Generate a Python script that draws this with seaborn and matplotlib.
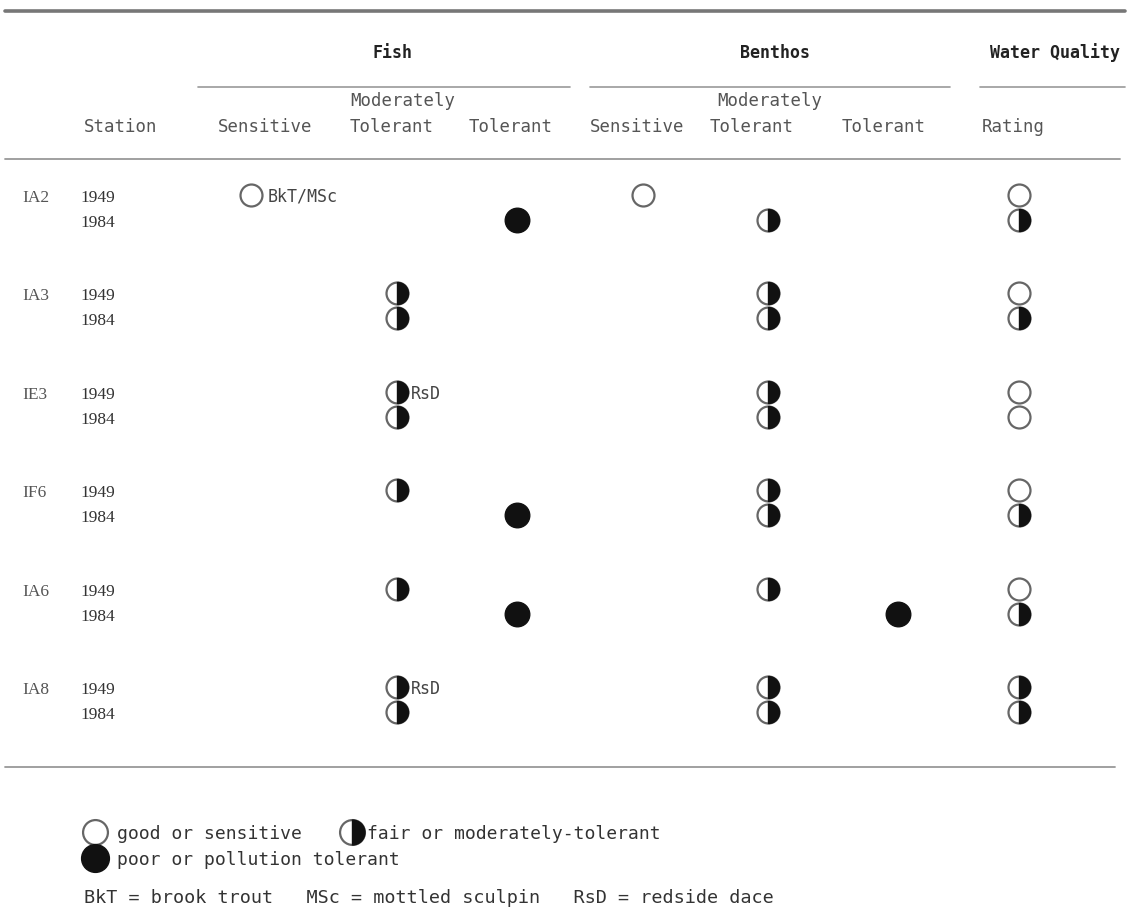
import pandas as pd
import seaborn as sns
import matplotlib.pyplot as plt
from matplotlib.markers import MarkerStyle

# Table contents
stations = ["IA2", "IA3", "IE3", "IF6", "IA6", "IA8"]
years = ["1949", "1984"]

# Fish / benthos: tolerance class found at each station (S, MT, T)
fish_1949 = ["S", "MT", "MT", "MT", "MT", "MT"]
fish_1984 = ["T", "MT", "MT", "T", "T", "MT"]
benthos_1949 = ["S", "MT", "MT", "MT", "MT", "MT"]
benthos_1984 = ["MT", "MT", "MT", "MT", "T", "MT"]

# Water quality rating (good, fair, poor)
wq_1949 = ["good", "good", "good", "good", "good", "fair"]
wq_1984 = ["fair", "fair", "good", "fair", "fair", "fair"]

# Species notes next to fish symbols (station, year, text)
fish_notes = [("IA2", "1949", "BkT/MSc"), ("IE3", "1949", "RsD"), ("IA8", "1949", "RsD")]

sub_headers = ["Sensitive", "Tolerant", "Tolerant", "Sensitive", "Tolerant", "Tolerant", "Rating"]
legend_labels = ["good or sensitive", "fair or moderately-tolerant", "poor or pollution tolerant"]
abbreviations = "BkT = brook trout   MSc = mottled sculpin   RsD = redside dace"

# Layout (pixel units of the page)
COL_X = {("Fish", "S"): 251, ("Fish", "MT"): 397, ("Fish", "T"): 517,
         ("Benthos", "S"): 643, ("Benthos", "MT"): 768, ("Benthos", "T"): 898,
         ("Water Quality", "rating"): 1019}
HEADER_X = [265, 392, 511, 637, 752, 884, 1013]
ROW_Y0, ROW_STEP, YEAR_DY = 196, 98.4, 25
SYMBOL = {"S": "open", "MT": "half", "T": "full", "good": "open", "fair": "half", "poor": "full"}

MONO = ["DejaVu Sans Mono"]
SERIF = ["Liberation Serif", "DejaVu Serif"]
INK = "#333333"


def row_y(station, year):
    return ROW_Y0 + ROW_STEP * stations.index(station) + YEAR_DY * years.index(year)


def build_table():
    """Long table: one row per symbol in the chart."""
    rows = []
    for group, y49, y84 in [("Fish", fish_1949, fish_1984), ("Benthos", benthos_1949, benthos_1984)]:
        for year, vals in zip(years, [y49, y84]):
            for st, v in zip(stations, vals):
                rows.append(dict(station=st, year=year, group=group, level=v, symbol=SYMBOL[v]))
    for year, vals in zip(years, [wq_1949, wq_1984]):
        for st, v in zip(stations, vals):
            rows.append(dict(station=st, year=year, group="Water Quality", level="rating", symbol=SYMBOL[v]))
    df = pd.DataFrame(rows)
    df["x"] = [COL_X[(g, l)] for g, l in zip(df["group"], df["level"])]
    df["y"] = [row_y(s, y) for s, y in zip(df["station"], df["year"])]
    return df


def draw_symbols(ax, df, size=250):
    """Open, half-filled and filled circles."""
    ring = df[df["symbol"].isin(["open", "half"])]
    sns.scatterplot(data=ring, x="x", y="y", ax=ax, s=size, marker="o",
                    facecolor="white", edgecolor="#666666", linewidth=1.6, zorder=3)
    half = df[df["symbol"] == "half"]
    sns.scatterplot(data=half, x="x", y="y", ax=ax, s=size,
                    marker=MarkerStyle("o", fillstyle="right"),
                    color="#111111", edgecolor="#111111", linewidth=1.0, zorder=4)
    full = df[df["symbol"] == "full"]
    sns.scatterplot(data=full, x="x", y="y", ax=ax, s=size * 1.25, marker="o",
                    color="#111111", edgecolor="#111111", linewidth=1.0, zorder=4)


def main():
    sns.set_theme(style="white")
    plt.rcParams["font.family"] = MONO

    fig = plt.figure(figsize=(11.29, 9.12), dpi=100)
    ax = fig.add_axes([0, 0, 1, 1])
    ax.set_xlim(0, 1129)
    ax.set_ylim(912, 0)
    ax.axis("off")

    # Rules
    ax.plot([5, 1125], [12, 12], color="#777777", lw=2.6)
    for x0, x1 in [(198, 570), (590, 950), (980, 1125)]:
        ax.plot([x0, x1], [88, 88], color="#999999", lw=1.2)
    ax.plot([5, 1120], [160, 160], color="#999999", lw=1.3)
    ax.plot([5, 1115], [768, 768], color="#999999", lw=1.3)

    # Headers
    for label, x in [("Fish", 392), ("Benthos", 775), ("Water Quality", 1055)]:
        ax.text(x, 53, label, ha="center", va="center", fontsize=12, fontweight="bold", color="#222222")
    for x in [403, 770]:
        ax.text(x, 101, "Moderately", ha="center", va="center", fontsize=12.5, color="#555555")
    ax.text(121, 127, "Station", ha="center", va="center", fontsize=12.5, color="#555555")
    for label, x in zip(sub_headers, HEADER_X):
        ax.text(x, 127, label, ha="center", va="center", fontsize=12.5, color="#555555")

    # Row labels
    for st in stations:
        ax.text(22, row_y(st, "1949") + 2, st, ha="left", va="center", fontsize=12.5,
                family=SERIF, color="#555555")
        for yr in years:
            ax.text(80, row_y(st, yr) + 2, yr, ha="left", va="center", fontsize=12.5,
                    family=SERIF, color=INK)

    df = build_table()
    draw_symbols(ax, df)

    for st, yr, note in fish_notes:
        x0 = COL_X[("Fish", "S")] + 17 if note == "BkT/MSc" else COL_X[("Fish", "MT")] + 14
        ax.text(x0, row_y(st, yr) + 1, note, ha="left", va="center", fontsize=12, color="#444444")

    # Key
    key = pd.DataFrame({"x": [95, 352, 95], "y": [833, 833, 859],
                        "symbol": ["open", "half", "full"]})
    draw_symbols(ax, key, size=320)
    ax.text(117, 834, legend_labels[0], ha="left", va="center", fontsize=13, color=INK)
    ax.text(367, 834, legend_labels[1], ha="left", va="center", fontsize=13, color=INK)
    ax.text(117, 860, legend_labels[2], ha="left", va="center", fontsize=13, color=INK)
    ax.text(84, 898, abbreviations, ha="left", va="center", fontsize=13.3, color=INK)

    fig.savefig("out.png", dpi=100, facecolor="white")
    plt.close(fig)


if __name__ == "__main__":
    main()
